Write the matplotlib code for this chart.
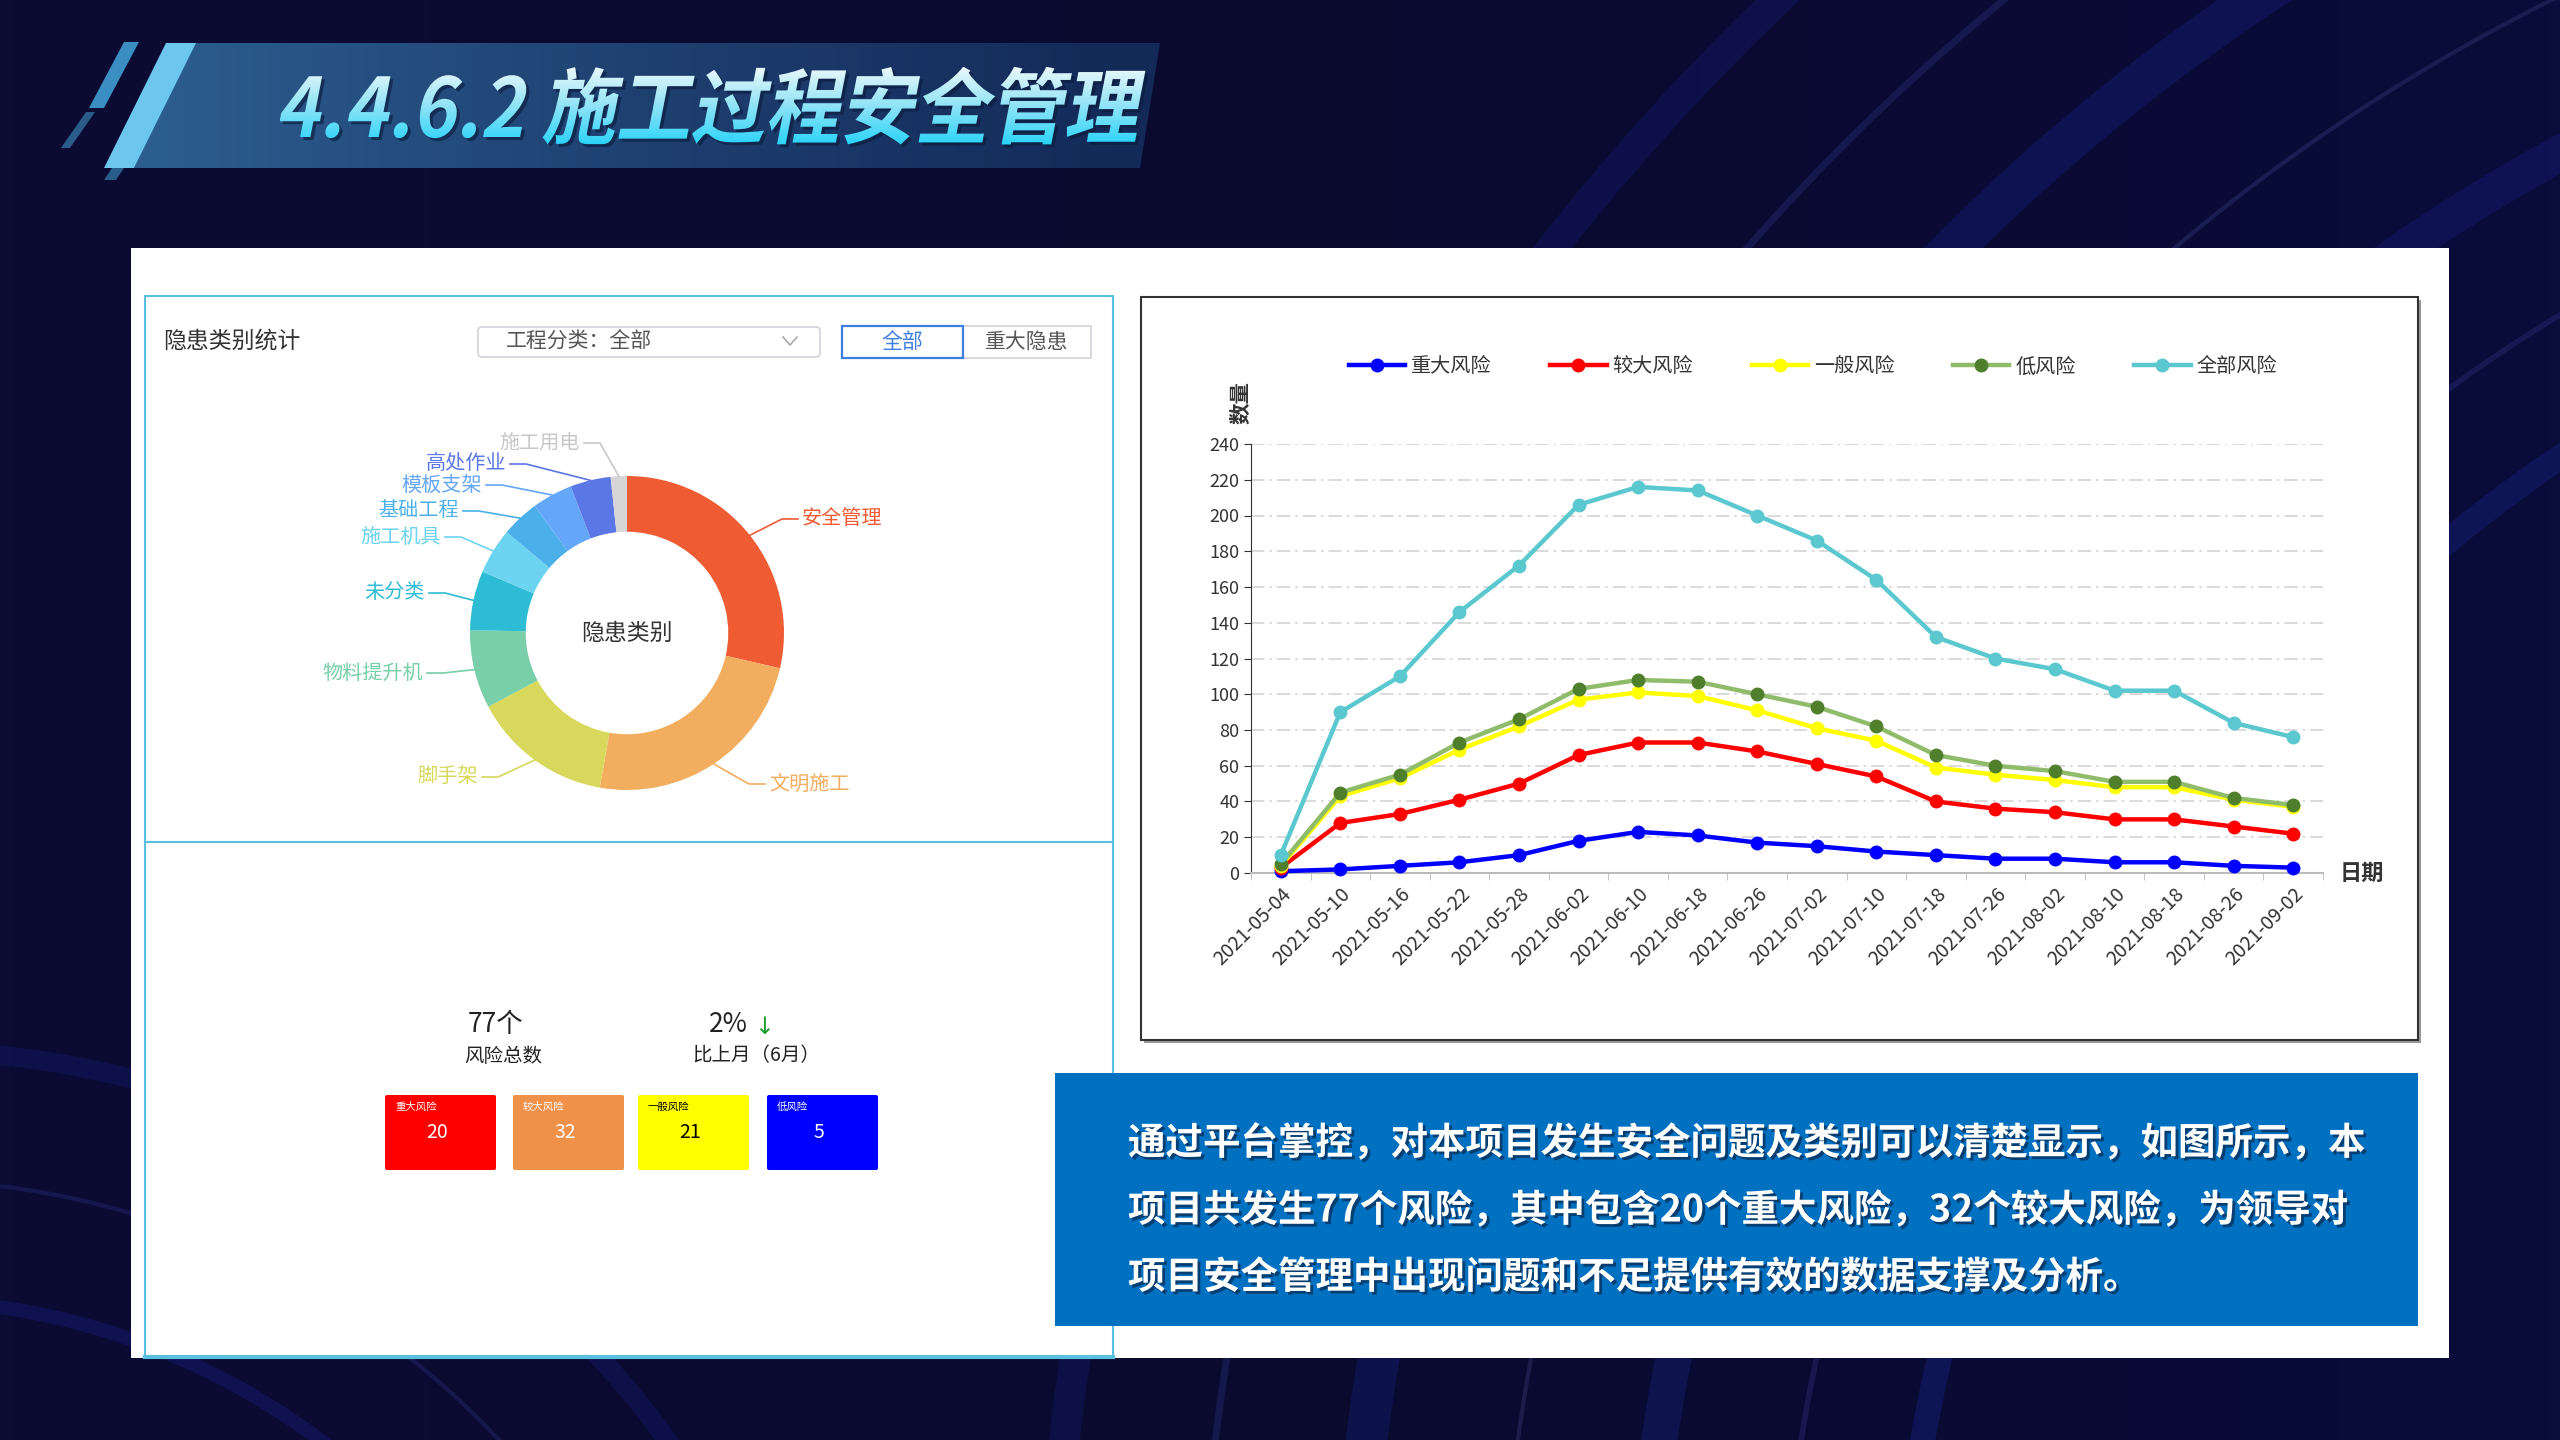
import numpy as np
import matplotlib
matplotlib.use('Agg')
import matplotlib.pyplot as plt
import matplotlib.transforms as mtransforms
import matplotlib.patheffects as pe
from matplotlib.patches import Rectangle, Polygon, FancyBboxPatch, PathPatch, Arc
from matplotlib.textpath import TextPath
from matplotlib.font_manager import FontProperties
from matplotlib.lines import Line2D
from matplotlib.colors import LinearSegmentedColormap, to_rgba

plt.rcParams['font.family'] = ['Noto Sans CJK SC', 'DejaVu Sans']

# ---- data ----
title = '4.4.6.2 施工过程安全管理'

pie_labels = ['安全管理', '文明施工', '脚手架', '物料提升机', '未分类',
              '施工机具', '基础工程', '模板支架', '高处作业', '施工用电']
pie_values = [103, 87, 52, 29, 22, 17, 14, 15, 15, 6]
pie_colors = ['#EF5B33', '#F2AE5E', '#D7D85C', '#78CFA8', '#2EBCD4',
              '#6CD3F0', '#4BB0EA', '#64A6F7', '#5B76E5', '#D6D6D6']

dates = ['2021-05-04', '2021-05-10', '2021-05-16', '2021-05-22', '2021-05-28',
         '2021-06-02', '2021-06-10', '2021-06-18', '2021-06-26', '2021-07-02',
         '2021-07-10', '2021-07-18', '2021-07-26', '2021-08-02', '2021-08-10',
         '2021-08-18', '2021-08-26', '2021-09-02']
major_risk = [1, 2, 4, 6, 10, 18, 23, 21, 17, 15, 12, 10, 8, 8, 6, 6, 4, 3]
large_risk = [3, 28, 33, 41, 50, 66, 73, 73, 68, 61, 54, 40, 36, 34, 30, 30, 26, 22]
normal_risk = [4, 43, 53, 69, 82, 97, 101, 99, 91, 81, 74, 59, 55, 52, 48, 48, 41, 37]
low_risk = [5, 45, 55, 73, 86, 103, 108, 107, 100, 93, 82, 66, 60, 57, 51, 51, 42, 38]
all_risk = [10, 90, 110, 146, 172, 206, 216, 214, 200, 186, 164, 132, 120, 114, 102, 102, 84, 76]

box_names = ['重大风险', '较大风险', '一般风险', '低风险']
box_counts = [20, 32, 21, 5]
box_colors = ['#FF0000', '#F0914A', '#FFFF00', '#0000FF']
box_text = ['white', 'white', 'black', 'white']

total_text = '77个'
change_text = '2%'

para = ['通过平台掌控，对本项目发生安全问题及类别可以清楚显示，如图所示，本',
        '项目共发生77个风险，其中包含20个重大风险，32个较大风险，为领导对',
        '项目安全管理中出现问题和不足提供有效的数据支撑及分析。']

W, H = 2560, 1440
fig = plt.figure(figsize=(25.6, 14.4), dpi=100)

# background in pixel coordinates
bg = fig.add_axes([0, 0, 1, 1])
bg.set_xlim(0, W)
bg.set_ylim(H, 0)
bg.axis('off')

grad = np.linspace(0, 1, 256)
bgcmap = LinearSegmentedColormap.from_list('bg', ['#0B0B34', '#090A2E', '#0A0C3A'])
bg.imshow(np.tile(grad, (64, 1)), cmap=bgcmap, extent=(0, W, H, 0), aspect='auto', zorder=0)
for r, c, a, lw in [(1500, '#1B2590', 0.35, 18), (1620, '#2A2F7A', 0.4, 4), (1760, '#1B2590', 0.3, 26),
                    (1900, '#30356E', 0.45, 3), (2050, '#1B2590', 0.3, 30), (2200, '#2E3480', 0.35, 5),
                    (2350, '#1B2590', 0.25, 22)]:
    bg.add_patch(Arc((3400, 1700), 2 * r, 2 * r, theta1=150, theta2=260, color=c, alpha=a, lw=lw, zorder=1))
for r, c, a, lw in [(700, '#1B2590', 0.3, 10), (820, '#2E3480', 0.35, 3), (950, '#1B2590', 0.25, 14)]:
    bg.add_patch(Arc((-100, 2000), 2 * r, 2 * r, theta1=270, theta2=360, color=c, alpha=a, lw=lw, zorder=1))
for r, c, a, lw in [(1900, '#2E3480', 0.3, 4), (2000, '#1B2590', 0.25, 14)]:
    bg.add_patch(Arc((900, 2050), 2 * r, 2 * r, theta1=40, theta2=130, color=c, alpha=a, lw=lw, zorder=1))

# title banner
banner = Polygon([(195, 43), (1160, 43), (1140, 168), (134, 168)], closed=True, fc='none', ec='none', zorder=2)
bg.add_patch(banner)
bimg = np.zeros((2, 256, 4))
c0, c1 = np.array(to_rgba('#2F6496')), np.array(to_rgba('#1B3E73'))
for i, t in enumerate(np.linspace(0, 1, 256)):
    col = c0 * (1 - t) + c1 * t
    col[3] = 0.95 - 0.35 * t
    bimg[:, i] = col
im = bg.imshow(bimg, extent=(134, 1160, 168, 43), aspect='auto', zorder=2)
im.set_clip_path(banner)
bg.add_patch(Polygon([(166, 43), (196, 43), (134, 168), (104, 168)], fc='#6CC6EE', ec='none', zorder=3))
bg.add_patch(Polygon([(124, 42), (139, 42), (104, 108), (89, 108)], fc='#3A8EC2', ec='none', zorder=3))
bg.add_patch(Polygon([(86, 112), (95, 112), (70, 148), (61, 148)], fc='#2A5C8A', ec='none', zorder=3))
bg.add_patch(Polygon([(112, 168), (124, 168), (116, 180), (104, 180)], fc='#2A5C8A', ec='none', zorder=3))

fp = FontProperties(family='Noto Sans CJK SC', weight='bold')
tp = TextPath((0, 0), title, size=82, prop=fp)
tr = mtransforms.Affine2D().skew_deg(12, 0).scale(0.91, -1).translate(275, 137)
tpath = tr.transform_path(tp)
ext = tpath.get_extents()
shadow = PathPatch(mtransforms.Affine2D().translate(3, 3).transform_path(tpath), fc='#0A1A3A', ec='none',
                   alpha=0.6, zorder=4)
bg.add_patch(shadow)
tpatch = PathPatch(tpath, fc='none', ec='none', zorder=5)
bg.add_patch(tpatch)
tcmap = LinearSegmentedColormap.from_list('tt', ['#EAF8FB', '#8FE3F6', '#2AD3F8'])
tim = bg.imshow(np.linspace(0, 1, 128).reshape(-1, 1), cmap=tcmap,
                extent=(ext.x0, ext.x1, ext.y1, ext.y0), aspect='auto', zorder=5)
tim.set_clip_path(tpatch)
bg.set_xlim(0, W)
bg.set_ylim(H, 0)

# white card
bg.add_patch(Rectangle((131, 248), 2318, 1110, fc='white', ec='none', zorder=6))
bg.add_patch(Rectangle((145, 296), 968, 1061, fc='none', ec='#5BC0E0', lw=1.5, zorder=7))
bg.plot([145, 1113], [1357, 1357], color='#5BC0E0', lw=3, zorder=7)
bg.plot([145, 1113], [842, 842], color='#5BC0E0', lw=1.5, zorder=7)
bg.add_patch(Rectangle((1144, 300), 1277, 743, fc='#9A9A9A', ec='none', zorder=7))
bg.add_patch(Rectangle((1141, 297), 1277, 743, fc='white', ec='#333333', lw=1.5, zorder=7))

# left panel header
bg.text(163, 341, '隐患类别统计', fontsize=16.5, color='#333333', va='center', ha='left', zorder=8)
bg.add_patch(FancyBboxPatch((478, 327), 342, 30, boxstyle='round,pad=0,rounding_size=4',
                            fc='white', ec='#D4D6DE', lw=1.3, zorder=8))
bg.text(506, 342, '工程分类：全部', fontsize=15, color='#555555', va='center', ha='left', zorder=9)
bg.plot([783, 790, 797], [337, 345, 337], color='#AAAAAA', lw=1.2, zorder=9)
bg.add_patch(Rectangle((963, 326), 128, 32, fc='white', ec='#D4D6DE', lw=1.3, zorder=8))
bg.add_patch(Rectangle((842, 326), 121, 32, fc='white', ec='#3E7FE0', lw=1.6, zorder=9))
bg.text(902, 342, '全部', fontsize=15, color='#3E7FE0', va='center', ha='center', zorder=10)
bg.text(1027, 342, '重大隐患', fontsize=15, color='#555555', va='center', ha='center', zorder=10)

# donut
cx, cy, R = 627, 633, 157
pw, ph = 760, 560
pax = fig.add_axes([(cx - pw / 2) / W, 1 - (cy + ph / 2) / H, pw / W, ph / H])
wedges, _ = pax.pie(pie_values, colors=pie_colors, startangle=90, counterclock=False, radius=1,
                    wedgeprops=dict(width=0.355, edgecolor='none'))
pax.set_xlim(-pw / 2 / R, pw / 2 / R)
pax.set_ylim(-ph / 2 / R, ph / 2 / R)
pax.axis('off')
pax.text(0, 0, '隐患类别', ha='center', va='center', fontsize=16.5, color='#333333')

# label anchors (pixel positions of the text edge), side: +1 right, -1 left
label_pos = [(802, 519, 1), (769, 784, 1), (478, 777, -1), (423, 673, -1), (425, 593, -1),
             (441, 537, -1), (459, 511, -1), (482, 485, -1), (506, 464, -1), (580, 443, -1)]
for w, lab, col, (tx, ty, side) in zip(wedges, pie_labels, pie_colors, label_pos):
    th = np.deg2rad((w.theta1 + w.theta2) / 2)
    sx, sy = np.cos(th) * 1.0, np.sin(th) * 1.0
    ex, ey = (tx - cx) / R, (cy - ty) / R
    elbow = ex - side * 20 / R
    lc = '#C8C8C8' if lab == '施工用电' else col
    pax.plot([sx, elbow, ex - side * 4 / R], [sy, ey, ey], color=lc, lw=1.2)
    pax.text(ex, ey, lab, color=lc, fontsize=14.5, va='center', ha='left' if side > 0 else 'right')

# summary numbers
bg.text(496, 1025, total_text, fontsize=19, color='#222222', ha='center', va='center', zorder=8)
bg.text(503, 1056, '风险总数', fontsize=14, color='#222222', ha='center', va='center', zorder=8)
bg.text(748, 1025, change_text, fontsize=19, color='#222222', ha='right', va='center', zorder=8)
bg.text(754, 1027, '↓', fontsize=17, color='#1E9E2E', ha='left', va='center', zorder=8,
        family=['DejaVu Sans'])
bg.text(756, 1056, '比上月（6月）', fontsize=14, color='#222222', ha='center', va='center', zorder=8)

box_x = [385, 513, 638, 767]
for bx, name, n, fc, tc in zip(box_x, box_names, box_counts, box_colors, box_text):
    bg.add_patch(FancyBboxPatch((bx, 1095), 111, 75, boxstyle='round,pad=0,rounding_size=2',
                                fc=fc, ec='none', zorder=8))
    bg.text(bx + 10, 1107, name, fontsize=7.5, color=tc, ha='left', va='center', zorder=9)
    bg.text(bx + 52, 1133, str(n), fontsize=14, color=tc, ha='center', va='center', zorder=9)

# line chart
ax = fig.add_axes([1251 / W, 1 - 873 / H, (2323 - 1251) / W, (873 - 444) / H])
x = np.arange(len(dates))
series = [('重大风险', major_risk, '#0000FF', '#0000FF'),
          ('较大风险', large_risk, '#FF0000', '#FF0000'),
          ('一般风险', normal_risk, '#FFFF00', '#FFFF00'),
          ('低风险', low_risk, '#8FBC6A', '#4F7F2C'),
          ('全部风险', all_risk, '#5BC8D0', '#5BC8D0')]
handles = []
for i, (name, vals, lc, mc) in enumerate(series):
    ax.plot(x, vals, color=lc, lw=3.2, marker='o', ms=9, mfc=mc, mec=mc, zorder=3 + i, clip_on=False)
    handles.append(Line2D([], [], color=lc, lw=3.2, marker='o', ms=9, mfc=mc, mec=mc))
ax.set_xlim(-0.5, len(dates) - 0.5)
ax.set_ylim(0, 240)
ax.set_yticks(np.arange(0, 241, 20))
ax.set_xticks(x)
ax.set_xticklabels(dates, rotation=45, ha='right', rotation_mode='anchor', fontsize=14, color='#333333')
ax.set_xticks(np.arange(-0.5, len(dates), 1), minor=True)
ax.tick_params(axis='x', which='major', length=0, pad=8)
ax.tick_params(axis='x', which='minor', length=5, color='#BBBBBB')
ax.tick_params(axis='y', labelsize=13, labelcolor='#333333', length=5, color='#333333')
ax.grid(axis='y', color='#D4D4D4', lw=1.2, linestyle=(0, (8, 3, 1.5, 3)))
ax.set_axisbelow(True)
for s in ['top', 'right']:
    ax.spines[s].set_visible(False)
ax.spines['left'].set_color('#333333')
ax.spines['bottom'].set_color('#BBBBBB')
ax.spines['bottom'].set_linewidth(1.5)

fig.legend(handles, [s[0] for s in series], ncol=5, loc='center', bbox_to_anchor=(1813 / W, 1 - 367 / H),
           frameon=False, fontsize=14.5, handlelength=2.8, columnspacing=2.9, handletextpad=0.3,
           labelcolor='#333333')
bg.text(1241, 402, '数量', fontsize=15.5, fontweight='bold', color='#333333', rotation=90,
        ha='center', va='center', zorder=8)
bg.text(2362, 873, '日期', fontsize=16, fontweight='bold', color='#333333', ha='center', va='center', zorder=8)

# text box
bg.add_patch(Rectangle((1055, 1073), 1363, 253, fc='#0070C0', ec='none', zorder=9))
for i, line in enumerate(para):
    bg.text(1128, 1143 + i * 67, line, fontsize=27, fontweight='bold', color='white', ha='left',
            va='center', zorder=10,
            path_effects=[pe.SimplePatchShadow(offset=(2, -2), shadow_rgbFace='#0A2A50', alpha=0.7), pe.Normal()])

fig.savefig('out.png', dpi=100)
